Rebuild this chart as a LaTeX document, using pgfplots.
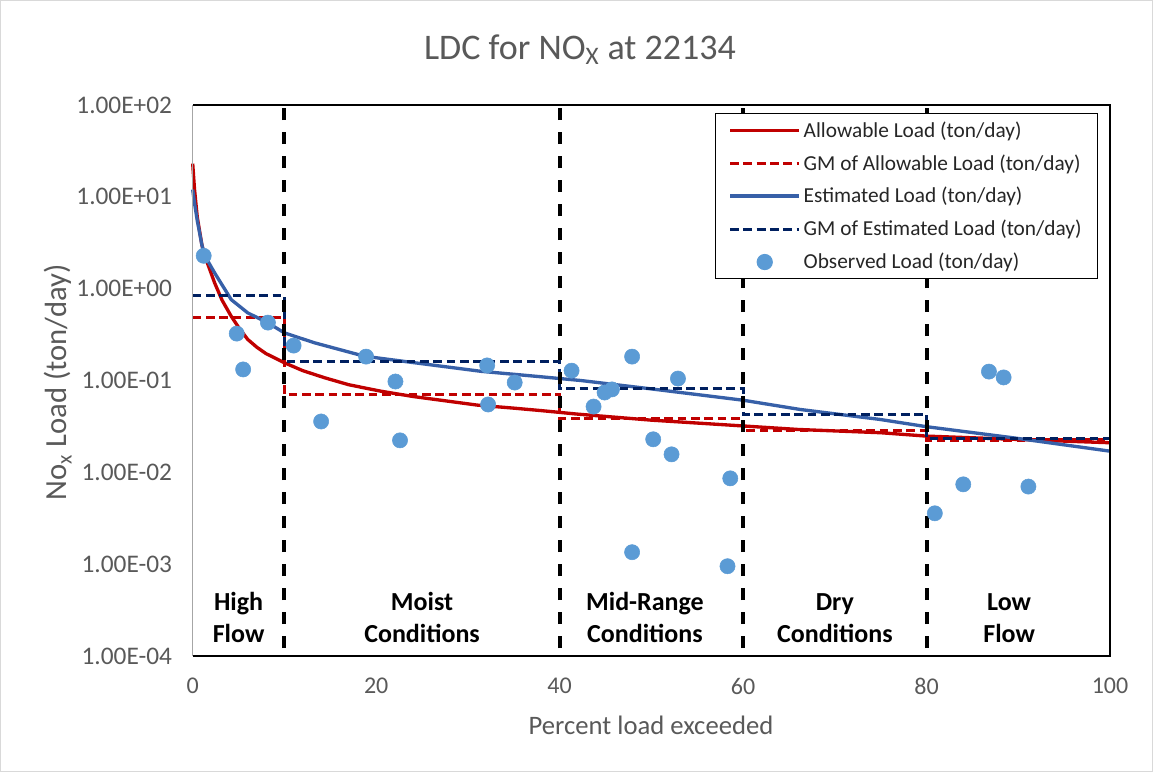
\documentclass[border=0pt]{standalone}
\usepackage{fontspec}
\setmainfont{Carlito}
\usepackage{pgfplots}
\pgfplotsset{compat=1.18}
\definecolor{txt}{HTML}{595959}
\definecolor{allow}{HTML}{C00000}
\definecolor{est}{HTML}{3760A8}
\definecolor{gmest}{HTML}{002060}
\definecolor{obs}{HTML}{5B9BD5}
\pgfplotstableread{
x y
0 23
0.2 12
0.5 6
1.0 3.0
1.3 2.3
2.4 1.15
3.2 0.75
4.2 0.5
5 0.38
6 0.28
7 0.23
8 0.196
9 0.175
10 0.156
12 0.128
14.4 0.107
17 0.09
20.5 0.0765
24 0.067
27.8 0.0596
31 0.054
35 0.050
38 0.047
42 0.043
50 0.037
60 0.032
66 0.0293
75 0.027
80 0.0248
90 0.0228
100 0.021
}\allowable
\pgfplotstableread{
x y
0 0.49
10 0.49
10 0.0705
40 0.0705
40 0.0383
60 0.0383
60 0.0288
80 0.0288
80 0.0225
100 0.0225
}\gmallow
\pgfplotstableread{
x y
0 12
0.2 8.5
0.5 5.5
1.0 3.0
1.3 2.3
2.4 1.48
4.2 0.76
6 0.545
8.2 0.424
10 0.33
13.3 0.257
18.7 0.184
24.2 0.156
31.4 0.126
37.9 0.110
42.3 0.100
50 0.081
60 0.061
66.2 0.0484
74.9 0.0377
80 0.0314
89.4 0.0238
100 0.017
}\estimated
\pgfplotstableread{
x y
0 0.84
10 0.84
10 0.161
40 0.161
40 0.0813
60 0.0813
60 0.043
80 0.043
80 0.0233
100 0.0233
}\gmest
\pgfplotstableread{
x y
1.2 2.28
4.8 0.324
5.5 0.132
8.2 0.427
11.0 0.24
14.0 0.0358
18.9 0.182
22.1 0.0975
22.6 0.0223
32.1 0.146
32.2 0.0548
35.1 0.095
41.3 0.128
43.7 0.052
44.9 0.074
45.7 0.080
47.9 0.182
47.9 0.00135
50.2 0.0229
52.2 0.0157
52.9 0.105
58.6 0.0086
58.3 0.00095
80.9 0.00358
84.0 0.0074
86.8 0.125
88.4 0.108
91.1 0.0070
}\observed
\begin{document}
\begin{tikzpicture}[x=0.75pt,y=0.75pt]
\draw[draw=black!15, line width=0.75pt] (0.5,0.5) rectangle (1152.5,771.5);
\node[text=txt, font=\fontsize{27}{31}\selectfont] at (580,722) {LDC for NO\textsubscript{X} at 22134};
\begin{axis}[
  at={(144.525pt,87pt)}, anchor=south west,
  scale only axis, width=688pt, height=413.25pt,
  xmin=0, xmax=100, ymin=1e-4, ymax=100, ymode=log,
  clip=false,
  axis line style={draw=none},
  xtick={0,20,40,60,80,100}, xticklabels={0,20,40,60,80,100},
  ytick={1e-4,1e-3,1e-2,1e-1,1,10,100},
  yticklabels={1.00E-04,1.00E-03,1.00E-02,1.00E-01,1.00E+00,1.00E+01,1.00E+02},
  yminorticks=false, major tick length=0pt,
  tick label style={text=txt},
  xticklabel style={font=\fontsize{18}{21}\selectfont, yshift=-13pt},
  yticklabel style={font=\fontsize{19}{22}\selectfont, xshift=-12pt},
  legend style={at={(rel axis cs:0.987,0.9855)}, anchor=north east, draw=black, line width=0.75pt,
    font=\fontsize{16}{19}\selectfont, text=black!85, row sep=7.5pt, inner xsep=10pt, inner ysep=4pt,
    cells={anchor=west}},
  legend image code/.code={\draw[mark repeat=2,mark phase=2,#1] plot coordinates {(0pt,0pt) (26pt,0pt) (52pt,0pt)};},
]
\addplot[allow, line width=2.5pt] table {\allowable};
\addlegendentry{Allowable Load (ton/day)}
\addplot[allow, line width=2.3pt, dash pattern=on 6.5pt off 3.5pt] table {\gmallow};
\addlegendentry{GM of Allowable Load (ton/day)}
\addplot[est, line width=2.5pt] table {\estimated};
\addlegendentry{Estimated Load (ton/day)}
\addplot[gmest, line width=2.3pt, dash pattern=on 6.5pt off 3.5pt] table {\gmest};
\addlegendentry{GM of Estimated Load (ton/day)}
\addplot[forget plot, black, line width=3pt, dash pattern=on 9pt off 9pt, dash phase=-6pt] coordinates {(10,1e-4) (10,100)};
\addplot[forget plot, black, line width=3pt, dash pattern=on 9pt off 9pt, dash phase=-6pt] coordinates {(40,1e-4) (40,100)};
\addplot[forget plot, black, line width=3pt, dash pattern=on 9pt off 9pt, dash phase=-6pt] coordinates {(60,1e-4) (60,100)};
\addplot[forget plot, black, line width=3pt, dash pattern=on 9pt off 9pt, dash phase=-6pt] coordinates {(80,1e-4) (80,100)};
\addplot[only marks, mark=*, color=obs, mark size=5.7pt] table {\observed};
\addlegendentry{Observed Load (ton/day)}
\draw[black, line width=1.2pt] (rel axis cs:0,0) -- (rel axis cs:1,0) -- (rel axis cs:1,1) -- (rel axis cs:0,1);
\draw[black!35, line width=1pt] (rel axis cs:0,0) -- (rel axis cs:0,1);
\begin{scope}[every node/.style={font=\bfseries\fontsize{19.5}{24}\selectfont, align=center, text=black}]
\node at (axis cs:5,2.6e-4) {High\\Flow};
\node at (axis cs:25,2.6e-4) {Moist\\Conditions};
\node at (axis cs:49.3,2.6e-4) {Mid-Range\\Conditions};
\node at (axis cs:70,2.6e-4) {Dry\\Conditions};
\node at (axis cs:89,2.6e-4) {Low\\Flow};
\end{scope}
\end{axis}
\node[text=txt, font=\fontsize{23}{27}\selectfont, rotate=90] at (58,390) {No\textsubscript{x} Load (ton/day)};
\node[text=txt, font=\fontsize{20}{24}\selectfont] at (651,47) {Percent load exceeded};
\end{tikzpicture}
\end{document}
